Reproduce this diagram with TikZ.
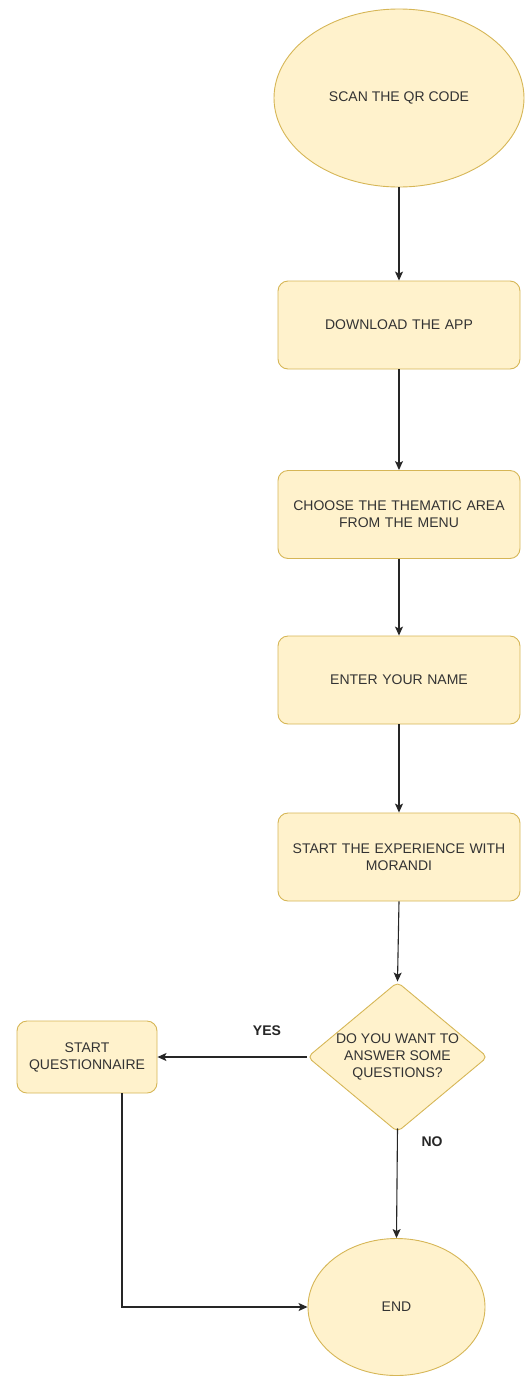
\documentclass[tikz,border=0pt]{standalone}
\usepackage{fontspec}
\setmainfont{Liberation Sans}
\usetikzlibrary{shapes.geometric,arrows.meta}
\definecolor{boxfill}{HTML}{FFF2CC}
\definecolor{boxline}{HTML}{D6B656}
\definecolor{txt}{HTML}{333333}
\begin{document}
\begin{tikzpicture}[x=1pt,y=-1pt,
  every node/.style={font=\fontsize{14}{17}\selectfont, text=txt},
  procbox/.style={draw=boxline, fill=boxfill, line width=0.9pt, rounded corners=10pt,
    minimum width=242pt, minimum height=88pt, align=center, inner sep=2pt, text width=232pt},
  oval/.style={draw=boxline, fill=boxfill, line width=0.9pt, ellipse, inner sep=0pt, align=center},
  decide/.style={draw=boxline, fill=boxfill, line width=0.9pt, diamond, aspect=1.2,
    inner sep=0pt, minimum width=180pt, minimum height=150pt, align=center, rounded corners=5pt},
  arr/.style={draw=black!85, line width=1.1pt, -{Stealth[length=9pt,width=8pt,inset=2pt]}},
  lbl/.style={font=\fontsize{14}{17}\selectfont\bfseries, text=black!85}]
\useasboundingbox (0,0) rectangle (527,1376);
\node[oval, minimum width=250pt, minimum height=178pt] (scan) at (399,98) {SCAN THE QR CODE};
\node[procbox] (dl) at (399,325) {DOWNLOAD THE APP};
\node[procbox] (choose) at (399,514.5) {CHOOSE THE THEMATIC AREA\\FROM THE MENU};
\node[procbox] (name) at (399,680) {ENTER YOUR NAME};
\node[procbox] (exp) at (399,857) {START THE EXPERIENCE WITH\\MORANDI};
\node[decide] (dq) at (397.5,1057) {DO YOU WANT TO\\ANSWER SOME\\QUESTIONS?};
\node[draw=boxline, fill=boxfill, line width=0.9pt, rounded corners=10pt,
  minimum width=140pt, minimum height=72pt, align=center, inner sep=2pt] (sq) at (87,1057) {START\\QUESTIONNAIRE};
\node[oval, minimum width=177pt, minimum height=137pt] (end) at (396.5,1307) {END};
\node[lbl] (yes) at (267,1031) {YES};
\node[lbl] (no) at (432,1142) {NO};
\draw[arr] (scan.south) -- (dl.north);
\draw[arr] (dl.south) -- (choose.north);
\draw[arr] (choose.south) -- (name.north);
\draw[arr] (name.south) -- (exp.north);
\draw[arr] (exp.south) -- (dq.north);
\draw[arr] (dq.west) -- (sq.east);
\draw[arr] ([yshift=4pt]dq.south) -- (end.north);
\draw[arr] ([xshift=35pt]sq.south) |- (end.west);
\end{tikzpicture}
\end{document}
